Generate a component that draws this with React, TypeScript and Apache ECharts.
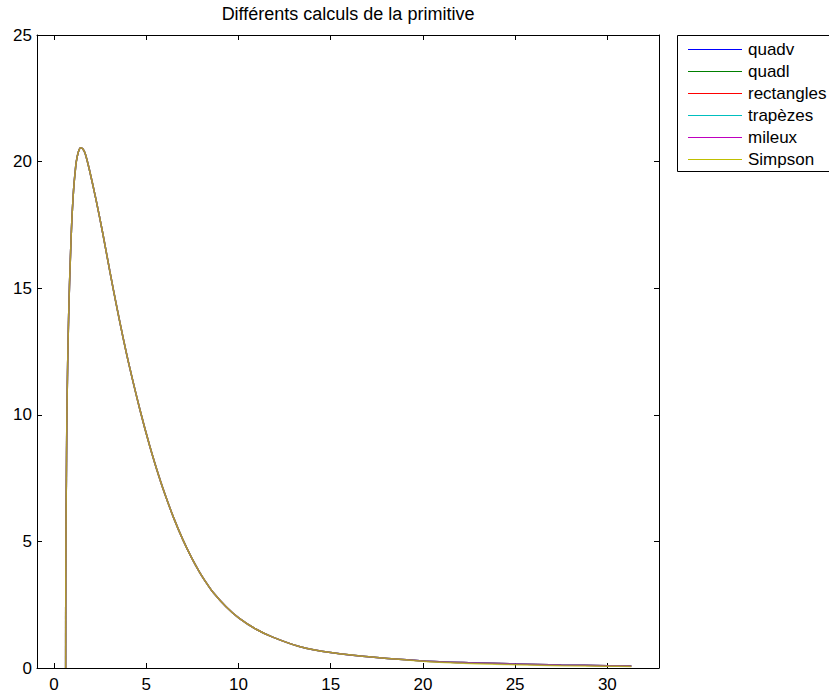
import React, { useEffect, useRef } from "react";
import * as echarts from "echarts";

// x values (shared abscissa of the primitive curves)
const xValues = [
  0.633, 0.64, 0.655, 0.67, 0.695, 0.724, 0.76, 0.796, 0.84, 0.886, 0.93, 0.976,
  1.03, 1.085, 1.15, 1.21, 1.33, 1.45, 1.57, 1.7, 1.93, 2.29, 2.65, 3.02, 3.38,
  3.74, 4.1, 4.64, 5.18, 5.72, 6.08, 6.5, 6.98, 7.45, 7.89, 8.3, 8.61, 9.33,
  10.05, 10.96, 11.86, 13.3, 15, 17.5, 20, 22.5, 25, 27.5, 30, 31.3,
];

// primitive values (quadv, quadl, rectangles, trapezes, mileux overlap)
const primitiveValues = [
  0, 3.5, 6.0, 7.3, 9.5, 11.2, 12.7, 13.9, 15.1, 16.1, 17.0, 17.8,
  18.5, 19.1, 19.6, 20.0, 20.4, 20.55, 20.5, 20.3, 19.65, 18.46, 17.15, 15.7, 14.35,
  13.07, 11.88, 10.26, 8.8, 7.5, 6.73, 5.91, 5.08, 4.37, 3.79, 3.32, 3.0, 2.42,
  1.96, 1.53, 1.22, 0.85, 0.61, 0.41, 0.28, 0.21, 0.16, 0.12, 0.09, 0.08,
];

// Simpson values: same curve, tail a little lower
const simpsonValues = [
  0, 3.5, 6.0, 7.3, 9.5, 11.2, 12.7, 13.9, 15.1, 16.1, 17.0, 17.8,
  18.5, 19.1, 19.6, 20.0, 20.4, 20.55, 20.5, 20.3, 19.65, 18.46, 17.15, 15.7, 14.35,
  13.07, 11.88, 10.26, 8.8, 7.5, 6.73, 5.91, 5.08, 4.37, 3.79, 3.32, 3.0, 2.42,
  1.96, 1.53, 1.22, 0.85, 0.61, 0.41, 0.27, 0.18, 0.13, 0.09, 0.07, 0.06,
];

const seriesNames = ["quadv", "quadl", "rectangles", "trapèzes", "mileux", "Simpson"];
const seriesColors = ["#0000ff", "#008000", "#ff0000", "#00bfbf", "#bf00bf", "#bfbf00"];
const seriesOpacity = [0.55, 0.55, 0.55, 0.55, 0.55, 0.7];
const seriesValues = [
  primitiveValues,
  primitiveValues,
  primitiveValues,
  primitiveValues,
  primitiveValues,
  simpsonValues,
];

const xTickValues = [0, 5, 10, 15, 20, 25, 30];
const titleText = "Différents calculs de la primitive";

const FONT = "'Liberation Sans', Arial, Helvetica, sans-serif";
const FS = 17;

export default function App() {
  const ref = useRef<HTMLDivElement>(null);

  useEffect(() => {
    document.body.style.margin = "0";
    if (!ref.current) return;
    const chart = echarts.init(ref.current, undefined, { renderer: "svg" });

    const xAxisBase = (position: "bottom" | "top", showLabels: boolean) => ({
      type: "value",
      position,
      min: -0.92,
      max: 32.8,
      axisLine: { show: true, onZero: false, lineStyle: { color: "#000", width: 1 } },
      axisTick: {
        show: true,
        inside: true,
        length: 5,
        customValues: xTickValues,
        lineStyle: { color: "#000", width: 1 },
      },
      axisLabel: {
        show: showLabels,
        customValues: xTickValues,
        fontSize: FS,
        fontFamily: FONT,
        color: "#000",
        margin: 8,
      },
      splitLine: { show: false },
    });

    const yAxisBase = (position: "left" | "right", showLabels: boolean) => ({
      type: "value",
      position,
      min: 0,
      max: 25,
      interval: 5,
      axisLine: { show: true, onZero: false, lineStyle: { color: "#000", width: 1 } },
      axisTick: { show: true, inside: true, length: 5, lineStyle: { color: "#000", width: 1 } },
      axisLabel: {
        show: showLabels,
        fontSize: FS,
        fontFamily: FONT,
        color: "#000",
        margin: 5,
      },
      splitLine: { show: false },
    });

    const legendGraphics: any[] = [];
    seriesNames.forEach((name, i) => {
      const rowY = Math.round(49 + 21.9 * i) + 0.5;
      legendGraphics.push({
        type: "line",
        shape: { x1: 688, y1: rowY, x2: 742, y2: rowY },
        style: { stroke: seriesColors[i], lineWidth: 1 },
      });
      legendGraphics.push({
        type: "text",
        x: 748,
        y: rowY,
        style: {
          text: name,
          fontSize: FS,
          fontFamily: FONT,
          fill: "#000",
          verticalAlign: "middle",
          align: "left",
        },
      });
    });

    const option: any = {
      animation: false,
      backgroundColor: "#fff",
      title: {
        text: titleText,
        left: 343,
        top: 0,
        textAlign: "center",
        textStyle: { fontSize: 18, fontWeight: "normal", fontFamily: FONT, color: "#000" },
      },
      grid: {
        left: 37,
        top: 35,
        width: 622,
        height: 633,
        containLabel: false,
        outerBoundsMode: "none",
      },
      xAxis: [xAxisBase("bottom", true), xAxisBase("top", false)],
      yAxis: [yAxisBase("left", true), yAxisBase("right", false)],
      graphic: [
        {
          type: "rect",
          shape: { x: 677.5, y: 35.5, width: 220, height: 136 },
          style: { fill: "#fff", stroke: "#000", lineWidth: 1 },
        },
        ...legendGraphics,
      ],
      series: seriesNames.map((name, k) => ({
        name,
        type: "line",
        xAxisIndex: 0,
        yAxisIndex: 0,
        data: xValues.map((x, i) => [x, seriesValues[k][i]]),
        showSymbol: false,
        symbol: "none",
        smooth: 0.3,
        color: seriesColors[k],
        lineStyle: { color: seriesColors[k], width: 1.5, opacity: seriesOpacity[k] },
        itemStyle: { color: seriesColors[k] },
        z: 2 + k,
      })),
    };

    chart.setOption(option);
    return () => chart.dispose();
  }, []);

  return <div ref={ref} style={{ width: 829, height: 695 }} />;
}
